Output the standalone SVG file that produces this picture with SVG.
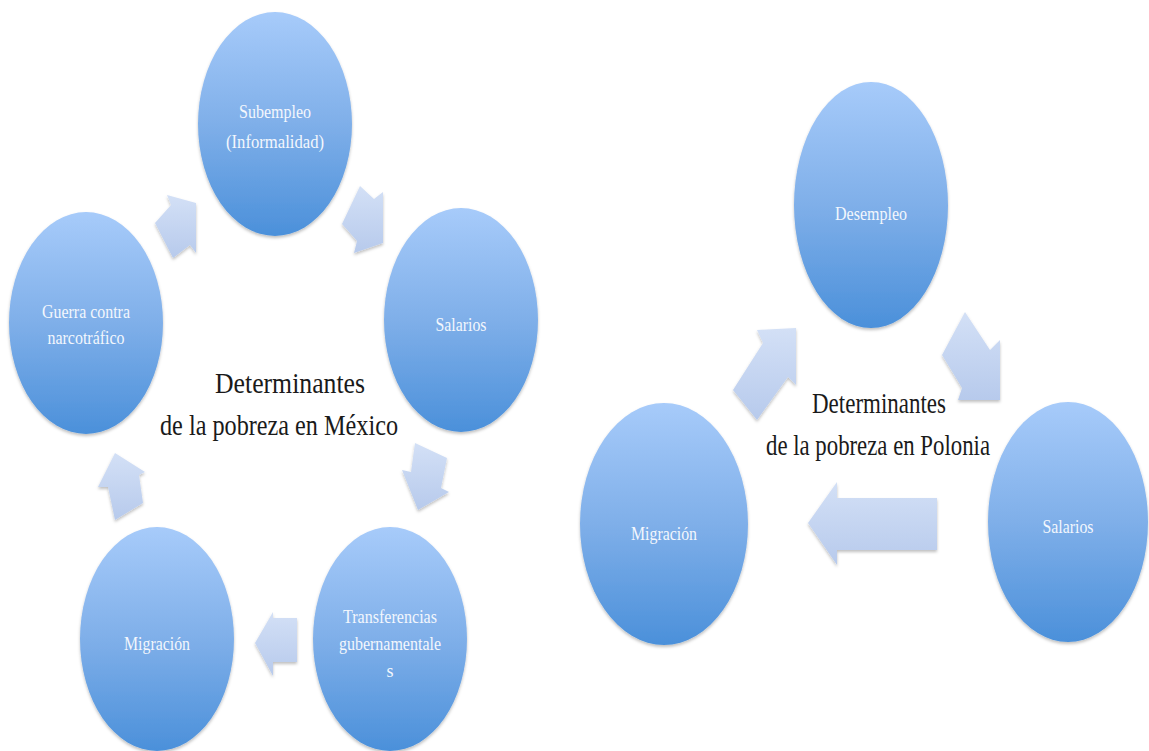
<svg xmlns="http://www.w3.org/2000/svg" width="1149" height="751" viewBox="0 0 1149 751">
<defs>
<linearGradient id="gBall" x1="0" y1="0" x2="0" y2="1">
<stop offset="0" stop-color="#a7cbfa"/>
<stop offset="0.5" stop-color="#7fafe9"/>
<stop offset="1" stop-color="#4b90da"/>
</linearGradient>
<linearGradient id="gArrow" x1="0" y1="0" x2="0" y2="1">
<stop offset="0" stop-color="#d3e0f6"/>
<stop offset="1" stop-color="#b7caec"/>
</linearGradient>
<filter id="sh" x="-10%" y="-10%" width="120%" height="125%">
<feDropShadow dx="0" dy="2" stdDeviation="1.5" flood-color="#000" flood-opacity="0.25"/>
</filter>
</defs>
<style>
.ball{fill:url(#gBall);filter:url(#sh)}
.arr{fill:url(#gArrow);filter:url(#sh)}
.lbl{font-family:"Liberation Serif","Times New Roman",serif;font-size:18px;fill:#f3f7fd;text-anchor:middle}
.ttl{font-family:"Liberation Serif","Times New Roman",serif;font-size:29px;fill:#1a1a1a;text-anchor:middle}
</style>
<rect width="1149" height="751" fill="#ffffff"/>

<g id="connectors">
<polygon class="arr" points="155,223 171,205 167,195 196,203 196,253 190,245 173,258"/>
<polygon class="arr" points="360,186 374,199 383,192 383,243 354,253 357,241 342,224"/>
<polygon class="arr" points="415,443 447,458 441,488 449,492 418,510 402,470 411,472"/>
<polygon class="arr" points="255,643 273,612 273,618 297,618 297,662 273,662 273,676"/>
<polygon class="arr" points="115,453 145,472 139,475 143,503 115,520 108,487 98,487"/>
<polygon class="arr" points="757,330 796,328 796,385 788,377 757,420 733,390 763,343"/>
<polygon class="arr" points="965,312 990,350 1000,340 1000,400 958,400 962,388 942,355"/>
<polygon class="arr" points="808,523 837,482 837,498 937,498 937,550 837,550 837,565"/>
</g>

<g id="node-subempleo">
<ellipse class="ball" cx="275" cy="124" rx="77" ry="112"/>
<text class="lbl" x="275" y="118" textLength="72" lengthAdjust="spacingAndGlyphs">Subempleo</text>
<text class="lbl" x="275" y="148" textLength="98" lengthAdjust="spacingAndGlyphs">(Informalidad)</text>
</g>
<g id="node-salarios-mx">
<ellipse class="ball" cx="461" cy="320" rx="77" ry="112"/>
<text class="lbl" x="461" y="331" textLength="51" lengthAdjust="spacingAndGlyphs">Salarios</text>
</g>
<g id="node-transferencias">
<ellipse class="ball" cx="390" cy="639" rx="77" ry="112"/>
<text class="lbl" x="390" y="623" textLength="94" lengthAdjust="spacingAndGlyphs">Transferencias</text>
<text class="lbl" x="390" y="650" textLength="102" lengthAdjust="spacingAndGlyphs">gubernamentale</text>
<text class="lbl" x="390" y="677">s</text>
</g>
<g id="node-migracion-mx">
<ellipse class="ball" cx="157" cy="639" rx="77" ry="112"/>
<text class="lbl" x="157" y="650" textLength="66" lengthAdjust="spacingAndGlyphs">Migración</text>
</g>
<g id="node-guerra">
<ellipse class="ball" cx="86" cy="323" rx="77" ry="111"/>
<text class="lbl" x="86" y="318" textLength="88" lengthAdjust="spacingAndGlyphs">Guerra contra</text>
<text class="lbl" x="86" y="344" textLength="77" lengthAdjust="spacingAndGlyphs">narcotráfico</text>
</g>
<g id="title-mexico">
<text class="ttl" x="290" y="393" textLength="150" lengthAdjust="spacingAndGlyphs">Determinantes</text>
<text class="ttl" x="279" y="435" textLength="238" lengthAdjust="spacingAndGlyphs">de la pobreza en México</text>
</g>

<g id="node-desempleo">
<ellipse class="ball" cx="871" cy="205" rx="77" ry="123"/>
<text class="lbl" x="871" y="220" textLength="72" lengthAdjust="spacingAndGlyphs">Desempleo</text>
</g>
<g id="node-salarios-pl">
<ellipse class="ball" cx="1068" cy="522" rx="80" ry="120"/>
<text class="lbl" x="1068" y="533" textLength="51" lengthAdjust="spacingAndGlyphs">Salarios</text>
</g>
<g id="node-migracion-pl">
<ellipse class="ball" cx="664" cy="524" rx="84" ry="121"/>
<text class="lbl" x="664" y="540" textLength="66" lengthAdjust="spacingAndGlyphs">Migración</text>
</g>
<g id="title-polonia">
<text class="ttl" x="879" y="413" textLength="134" lengthAdjust="spacingAndGlyphs">Determinantes</text>
<text class="ttl" x="878" y="455" textLength="224" lengthAdjust="spacingAndGlyphs">de la pobreza en Polonia</text>
</g>
</svg>
